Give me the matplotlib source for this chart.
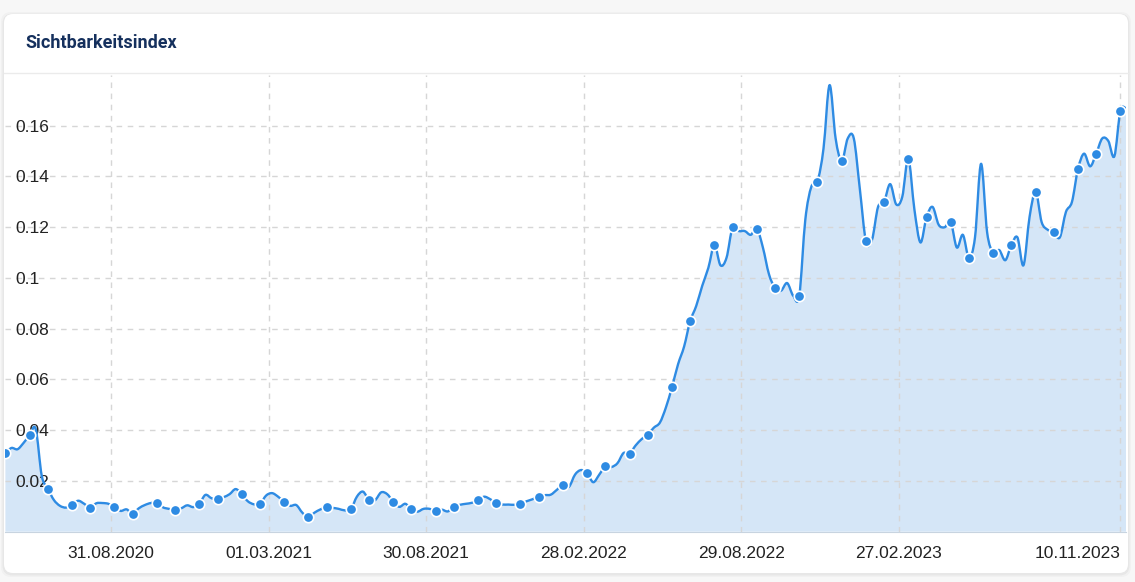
import numpy as np
import pandas as pd
import matplotlib
matplotlib.use("Agg")
import matplotlib.pyplot as plt
import matplotlib.dates as mdates
from matplotlib.patches import FancyBboxPatch, PathPatch
from matplotlib.path import Path
from matplotlib.lines import Line2D
from matplotlib.transforms import IdentityTransform
from matplotlib.ticker import FuncFormatter

# weekly values, first week 01.05.2020
start_date = "2020-05-01"
values = [
    0.031, 0.033, 0.0325, 0.035, 0.038, 0.0405, 0.022, 0.017, 0.0125, 0.0102,
    0.0095, 0.0105, 0.0122, 0.011, 0.0095, 0.0112, 0.0113, 0.011, 0.0098, 0.0082,
    0.0088, 0.0071, 0.0092, 0.0105, 0.0113, 0.0113, 0.0096, 0.009, 0.0086, 0.0092,
    0.0104, 0.0097, 0.011, 0.0145, 0.0132, 0.0128, 0.0136, 0.0148, 0.0168, 0.0148,
    0.012, 0.0108, 0.0108, 0.0142, 0.0152, 0.0138, 0.0118, 0.0102, 0.0105, 0.0075,
    0.0058, 0.0075, 0.0088, 0.0096, 0.0094, 0.009, 0.0084, 0.0088, 0.0138, 0.0158,
    0.0125, 0.0124, 0.0155, 0.0148, 0.0118, 0.0098, 0.011, 0.0088, 0.0079, 0.009,
    0.009, 0.0082, 0.0087, 0.008, 0.0098, 0.0106, 0.011, 0.0114, 0.0124, 0.0138,
    0.0128, 0.0113, 0.0107, 0.0107, 0.0106, 0.011, 0.012, 0.0128, 0.0138, 0.0144,
    0.0146, 0.0165, 0.0184, 0.0177, 0.0225, 0.0243, 0.023, 0.0195, 0.0225, 0.0258,
    0.0255, 0.027, 0.031, 0.0308, 0.034, 0.0365, 0.0383, 0.041, 0.043, 0.049,
    0.057, 0.066, 0.073, 0.083, 0.089, 0.097, 0.104, 0.113, 0.105, 0.108,
    0.12, 0.1185, 0.1185, 0.117, 0.1195, 0.112, 0.1015, 0.096, 0.095, 0.098,
    0.093, 0.093, 0.123, 0.136, 0.138, 0.151, 0.176, 0.155, 0.146, 0.155,
    0.155, 0.135, 0.1145, 0.115, 0.128, 0.13, 0.137, 0.129, 0.132, 0.147,
    0.127, 0.114, 0.124, 0.128, 0.121, 0.12, 0.122, 0.112, 0.117, 0.108,
    0.116, 0.145, 0.118, 0.11, 0.111, 0.107, 0.113, 0.116, 0.105, 0.124,
    0.134, 0.122, 0.119, 0.118, 0.116, 0.126, 0.13, 0.143, 0.149, 0.144,
    0.149, 0.155, 0.154, 0.148, 0.166, 0.1666,
]
tick_dates = ["2020-08-31", "2021-03-01", "2021-08-30", "2022-02-28",
              "2022-08-29", "2023-02-27", "2023-11-10"]
y_ticks = [0.02, 0.04, 0.06, 0.08, 0.1, 0.12, 0.14, 0.16]
title = "Sichtbarkeitsindex"

dates = pd.date_range(start_date, periods=len(values), freq="7D")
n_markers = 53
marker_idx = np.linspace(0, len(values) - 2, n_markers).round().astype(int)

LINE = "#2e8be3"
FILL = "#d5e6f7"

# smooth (catmull-rom style) bezier path through the weekly points
xs = mdates.date2num(dates)
ys = np.asarray(values)
verts = [(xs[0], ys[0])]
codes = [Path.MOVETO]
n = len(xs)
for i in range(n - 1):
    p0 = i - 1 if i > 0 else i
    p3 = i + 2 if i + 2 < n else i + 1
    c1 = (xs[i] + (xs[i + 1] - xs[p0]) / 6, ys[i] + (ys[i + 1] - ys[p0]) / 6)
    c2 = (xs[i + 1] - (xs[p3] - xs[i]) / 6, ys[i + 1] - (ys[p3] - ys[i]) / 6)
    verts += [c1, c2, (xs[i + 1], ys[i + 1])]
    codes += [Path.CURVE4] * 3
line_path = Path(verts, codes)
fill_path = Path(verts + [(xs[-1], 0), (xs[0], 0), (xs[0], ys[0])],
                 codes + [Path.LINETO, Path.LINETO, Path.CLOSEPOLY])

W, H = 1135, 582
fig = plt.figure(figsize=(W / 100, H / 100), dpi=100, facecolor="#f7f7f7")

# card with soft shadow (pixel coords, origin bottom-left)
for grow, a in [(3, 0.025), (1.5, 0.04)]:
    fig.add_artist(FancyBboxPatch((4 - grow, 9 - grow - 1), 1124 + 2 * grow, 559 + 2 * grow,
                                  boxstyle="round,pad=0,rounding_size=10",
                                  transform=IdentityTransform(), fc="black", ec="none",
                                  alpha=a, zorder=-3))
fig.add_artist(FancyBboxPatch((4, 9), 1124, 559, boxstyle="round,pad=0,rounding_size=9",
                              transform=IdentityTransform(), fc="white", ec="none", zorder=-2))
fig.add_artist(Line2D([4, 1128], [H - 73, H - 73], transform=IdentityTransform(),
                      color="#ebebeb", lw=1, zorder=-1))
fig.text(25 / W, 1 - 43 / H, title, ha="left", va="center", fontsize=13,
         fontweight="bold", color="#15305d", family="Roboto")

ax = fig.add_axes([5.4 / W, (H - 531.7) / H, (1126.5 - 5.4) / W, (531.7 - 75) / H])
ax.set_facecolor("none")
ax.add_patch(PathPatch(fill_path, fc=FILL, ec="none", lw=0, zorder=1))
ax.add_patch(PathPatch(line_path, fc="none", ec=LINE, lw=1.7, zorder=3,
                       capstyle="round", joinstyle="round"))
ax.plot(dates[marker_idx], ys[marker_idx], ls="none", marker="o", ms=7.5,
        mfc=LINE, mec="white", mew=1.2, zorder=4)

ax.set_xlim(dates[0], dates[-1])
ax.set_ylim(0, 0.18)
ax.set_axisbelow(False)
ax.grid(True, color="#d6d6d6", lw=1, ls=(0, (4, 4)), zorder=2)

ticks = pd.to_datetime(tick_dates)
ax.set_xticks(ticks)
ax.set_xticklabels([t.strftime("%d.%m.%Y") for t in ticks], family="Liberation Sans")
ax.set_yticks(y_ticks)
ax.yaxis.set_major_formatter(FuncFormatter(lambda v, p: "%g" % v))
ax.tick_params(axis="x", length=0, pad=10, labelsize=12.5, labelcolor="#222222")
ax.tick_params(axis="y", length=0, pad=-7, labelsize=12.5, labelcolor="#222222")
ax.get_xticklabels()[-1].set_horizontalalignment("right")
for lab in ax.get_yticklabels():
    lab.set_horizontalalignment("left")
    lab.set_family("Liberation Sans")

for s in ["left", "right", "top"]:
    ax.spines[s].set_visible(False)
ax.spines["bottom"].set_color("#c8d4e0")

fig.savefig("out.png", dpi=100, facecolor=fig.get_facecolor())
